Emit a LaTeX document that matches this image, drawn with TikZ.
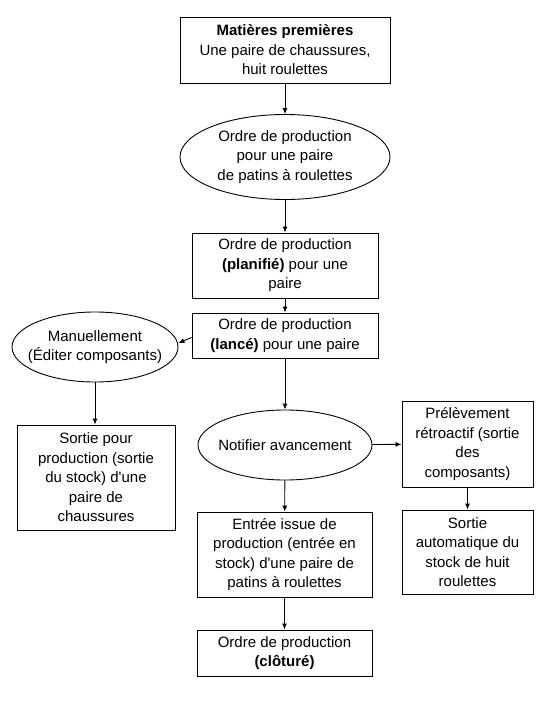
\documentclass[tikz,border=0pt]{standalone}
\usepackage{fontspec}
\setmainfont{Liberation Sans}
\usetikzlibrary{shapes.geometric,arrows.meta}

\tikzset{
  etape/.style={draw,line width=0.9pt,align=center,inner sep=0pt,
    font=\fontsize{15}{19.5}\selectfont},
  ovale/.style={etape,ellipse,inner xsep=-30pt,inner ysep=-12pt},
  fleche/.style={line width=0.9pt,-{Latex[length=6pt,width=5pt]}}
}

\begin{document}
\begin{tikzpicture}[x=1pt,y=-1pt]
  \useasboundingbox (0,0) rectangle (540,720);

  \node[etape,minimum width=210,minimum height=66] (mat) at (285,50)
    {\textbf{Matières premières}\\Une paire de chaussures,\\huit roulettes};
  \node[ovale,minimum width=210,minimum height=85] (ordre) at (285,157)
    {Ordre de production\\pour une paire\\de patins à roulettes};
  \node[etape,minimum width=186,minimum height=65] (plan) at (285,265.5)
    {Ordre de production\\\textbf{(planifié)} pour une\\paire};
  \node[etape,minimum width=186,minimum height=45] (lance) at (285,335.5)
    {Ordre de production\\\textbf{(lancé)} pour une paire};
  \node[ovale,minimum width=166,minimum height=70] (manuel) at (95,347)
    {Manuellement\\(Éditer composants)};
  \node[etape,minimum width=158,minimum height=105] (sortie) at (96,477.5)
    {Sortie pour\\production (sortie\\du stock) d\textquotesingle une\\paire de\\chaussures};
  \node[ovale,minimum width=174,minimum height=70] (notif) at (285,445)
    {Notifier avancement};
  \node[etape,minimum width=131,minimum height=86] (prelev) at (467.5,444)
    {Prélèvement\\rétroactif (sortie\\des\\composants)};
  \node[etape,minimum width=131,minimum height=84] (auto) at (467.5,552)
    {Sortie\\automatique du\\stock de huit\\roulettes};
  \node[etape,minimum width=175,minimum height=85] (entree) at (284.5,554.5)
    {Entrée issue de\\production (entrée en\\stock) d\textquotesingle une paire de\\patins à roulettes};
  \node[etape,minimum width=175,minimum height=46] (clot) at (284.5,653)
    {Ordre de production\\\textbf{(clôturé)}};

  \draw[fleche] (mat) -- (ordre);
  \draw[fleche] (ordre) -- (plan);
  \draw[fleche] (plan) -- (lance);
  \draw[fleche] ([yshift=-2]lance.west) -- ([yshift=4]manuel.east);
  \draw[fleche] (manuel) -- (manuel |- sortie.north);
  \draw[fleche] (lance) -- (notif);
  \draw[fleche] (notif) -- (prelev);
  \draw[fleche] (prelev) -- (auto);
  \draw[fleche] (notif) -- (entree);
  \draw[fleche] (entree) -- (clot);
\end{tikzpicture}
\end{document}
